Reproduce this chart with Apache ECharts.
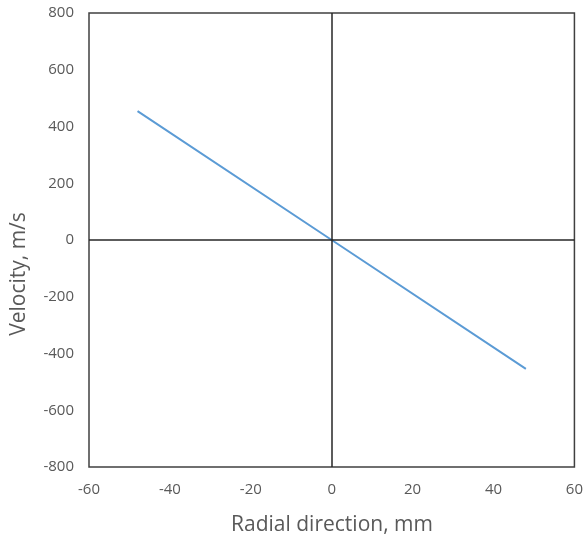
<!DOCTYPE html>
<html>
<head>
<meta charset="utf-8">
<script src="https://cdn.jsdelivr.net/npm/echarts@6/dist/echarts.min.js"></script>
<style>
html, body { margin: 0; padding: 0; background: #fff; }
#chart { width: 586px; height: 541px; }
</style>
</head>
<body>
<div id="chart"></div>
<script>
// Radial position (mm) and velocity (m/s)
const radialMm = [-48, 0, 48];
const velocity = [454, 0, -454];

const xTicks = { min: -60, max: 60, interval: 20 };
const yTicks = { min: -800, max: 800, interval: 200 };

const xTitle = 'Radial direction, mm';
const yTitle = 'Velocity, m/s';

const FONT = 'Open Sans, sans-serif';
const GREY = '#595959';

const chart = echarts.init(document.getElementById('chart'));
chart.setOption({
  animation: false,
  grid: {
    left: 89, right: 11, top: 13, bottom: 74,
    show: true, borderColor: '#404040', borderWidth: 1.5, backgroundColor: 'transparent'
  },
  xAxis: {
    type: 'value', min: xTicks.min, max: xTicks.max, interval: xTicks.interval,
    axisLine: { show: false, onZero: false },
    axisTick: { show: false },
    splitLine: { show: false },
    axisLabel: { fontSize: 15, margin: 15, fontFamily: FONT, color: GREY }
  },
  yAxis: {
    type: 'value', min: yTicks.min, max: yTicks.max, interval: yTicks.interval,
    axisLine: { show: false, onZero: false },
    axisTick: { show: false },
    splitLine: { show: false },
    axisLabel: { fontSize: 15, margin: 15, fontFamily: FONT, color: GREY }
  },
  graphic: [
    {
      type: 'text', x: 332, y: 515,
      style: { text: xTitle, font: '21px ' + FONT, fill: GREY, align: 'center', verticalAlign: 'top' }
    },
    {
      type: 'text', x: 9, y: 274, rotation: Math.PI / 2,
      style: { text: yTitle, font: '21px ' + FONT, fill: GREY, align: 'center', verticalAlign: 'top' }
    }
  ],
  series: [{
    type: 'line',
    data: radialMm.map((r, i) => [r, velocity[i]]),
    showSymbol: false,
    lineStyle: { color: '#5b9bd5', width: 2 },
    markLine: {
      silent: true,
      symbol: 'none',
      label: { show: false },
      lineStyle: { color: '#262626', width: 1.5, type: 'solid' },
      data: [{ xAxis: 0 }, { yAxis: 0 }]
    },
    z: 3
  }]
});
</script>
</body>
</html>
